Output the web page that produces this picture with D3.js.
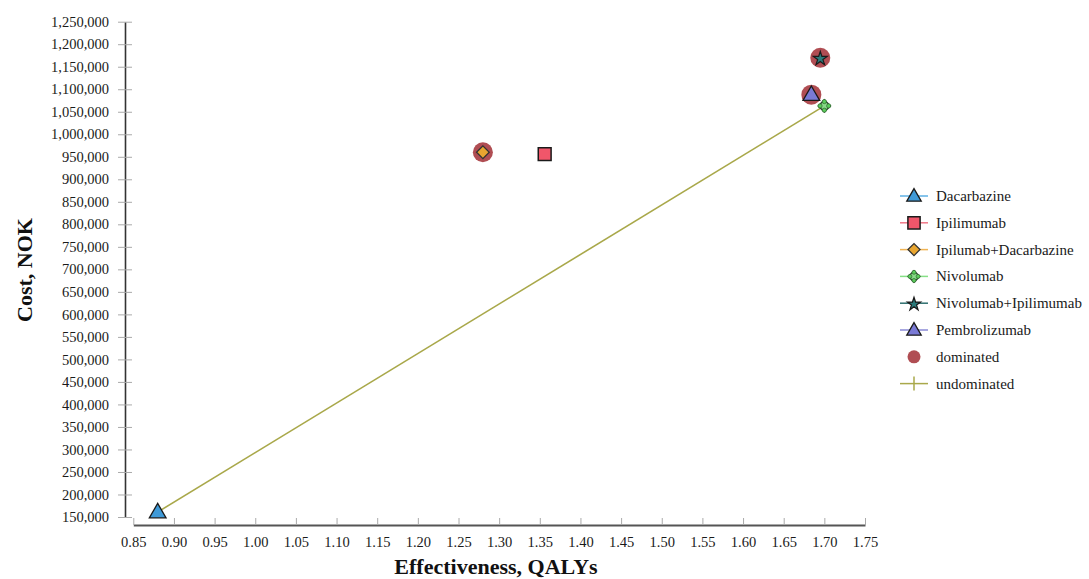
<!DOCTYPE html>
<html><head><meta charset="utf-8">
<script src="https://cdn.jsdelivr.net/npm/d3@7"></script>
<style>
html,body{margin:0;padding:0;background:#fff;}
svg{display:block;}
svg text{font-family:"Liberation Serif","Times New Roman",serif;}
</style></head>
<body>
<svg id="chart" width="1089" height="579"></svg>
<script>
// ---- data ----
const treatments = ["Dacarbazine","Ipilimumab","Ipilumab+Dacarbazine","Nivolumab","Nivolumab+Ipilimumab","Pembrolizumab"];
const effectiveness = [0.880, 1.356, 1.280, 1.700, 1.695, 1.684];
const costs = [161000, 956000, 960000, 1063000, 1170000, 1088000];
const dominated = ["Ipilumab+Dacarbazine","Nivolumab+Ipilimumab","Pembrolizumab"];
const undominated = ["Dacarbazine","Nivolumab"];
const xTicks = [0.85,0.90,0.95,1.00,1.05,1.10,1.15,1.20,1.25,1.30,1.35,1.40,1.45,1.50,1.55,1.60,1.65,1.70,1.75];
const yTicks = d3.range(150000, 1250001, 50000);
const legendLabels = ["Dacarbazine","Ipilimumab","Ipilumab+Dacarbazine","Nivolumab","Nivolumab+Ipilimumab","Pembrolizumab","dominated","undominated"];

// ---- styles ----
const FONT = "Liberation Serif, Times New Roman, serif";
const styles = {
  "Dacarbazine": {shape:"triangle", fill:"#3f9ad8", line:"#5eb0e4"},
  "Ipilimumab": {shape:"square", fill:"#f0566a", line:"#f07888"},
  "Ipilumab+Dacarbazine": {shape:"diamond", fill:"#e8a530", line:"#f0b455"},
  "Nivolumab": {shape:"nivo", fill:"#5ccc5c", line:"#86e086"},
  "Nivolumab+Ipilimumab": {shape:"star", fill:"#2a7a7a", line:"#2f6f6f"},
  "Pembrolizumab": {shape:"triangle", fill:"#7a7ad6", line:"#8a8ad6"}
};
const domColor = "#b04e52";
const undomColor = "#a9a84a";

const svg = d3.select("#chart");
const defs = svg.append("defs");
defs.append("filter").attr("id","soft").attr("x","-50%").attr("y","-50%").attr("width","200%").attr("height","200%")
  .append("feGaussianBlur").attr("stdDeviation",0.6);

const x = d3.scaleLinear().domain([0.85,1.75]).range([133.3,865]);
const y = d3.scaleLinear().domain([150000,1250000]).range([517,21.7]);

// ---- axes ----
const yAxis = d3.axisLeft(y).tickValues(yTicks).tickSizeInner(7).tickSizeOuter(0).tickPadding(9)
  .tickFormat(d3.format(","));
const gy = svg.append("g").attr("transform","translate(125,0)").call(yAxis).attr("font-family",FONT);
gy.select(".domain").attr("stroke","#333").attr("stroke-width",1.6);
gy.selectAll(".tick line").attr("x1",7).attr("x2",-7).attr("stroke","#aaa");
gy.selectAll(".tick text").attr("font-size","14.5px").attr("font-family",FONT).attr("fill","#1a1a1a");

const xAxis = d3.axisBottom(x).tickValues(xTicks).tickSizeInner(-7).tickSizeOuter(0).tickPadding(12)
  .tickFormat(d3.format(".2f"));
const gx = svg.append("g").attr("transform","translate(0,525)").call(xAxis).attr("font-family",FONT);
gx.select(".domain").attr("stroke","#555").attr("stroke-width",2);
gx.selectAll(".tick line").attr("stroke","#aaa");
gx.selectAll(".tick text").attr("font-size","14.5px").attr("font-family",FONT).attr("fill","#1a1a1a");

// axis titles
svg.append("text").attr("transform","translate(32,270) rotate(-90)").attr("text-anchor","middle")
  .attr("font-family",FONT).attr("font-size","22px").attr("font-weight","bold").attr("fill","#111").text("Cost, NOK");
svg.append("text").attr("x",496).attr("y",574).attr("text-anchor","middle")
  .attr("font-family",FONT).attr("font-size","22px").attr("font-weight","bold").attr("fill","#111").text("Effectiveness, QALYs");

// ---- frontier line ----
const pts = treatments.map((t,i)=>({name:t, x:effectiveness[i], y:costs[i]}));
const frontier = pts.filter(p=>undominated.includes(p.name)).sort((a,b)=>a.x-b.x);
svg.append("path").datum(frontier)
  .attr("d", d3.line().x(d=>x(d.x)).y(d=>y(d.y)))
  .attr("fill","none").attr("stroke",undomColor).attr("stroke-width",1.6);

// ---- dominated halos ----
svg.append("g").selectAll("circle").data(pts.filter(p=>dominated.includes(p.name))).join("circle")
  .attr("cx",d=>x(d.x)).attr("cy",d=>y(d.y)).attr("r",10)
  .attr("fill",domColor).attr("filter","url(#soft)");

// ---- markers ----
function drawMarker(g, name, scale){
  const st = styles[name];
  const s = scale || 1;
  if(st.shape==="triangle"){
    g.append("path").attr("d", d3.symbol(d3.symbolTriangle, 100*s*s)()).attr("transform","translate(0,1)")
      .attr("fill",st.fill).attr("stroke","#1a1a1a").attr("stroke-width",1.3);
  } else if(st.shape==="square"){
    g.append("path").attr("d", d3.symbol(d3.symbolSquare, 165*s*s)())
      .attr("fill",st.fill).attr("stroke","#1a1a1a").attr("stroke-width",1.5);
  } else if(st.shape==="diamond"){
    g.append("path").attr("d", d3.symbol(d3.symbolSquare, 80*s*s)()).attr("transform","rotate(45)")
      .attr("fill",st.fill).attr("stroke","#333").attr("stroke-width",1.3);
  } else if(st.shape==="nivo"){
    g.append("path").attr("d", d3.symbol(d3.symbolSquare, 75*s*s)()).attr("transform","rotate(45)")
      .attr("fill","#8bd88b").attr("stroke","#2f3f2f").attr("stroke-width",1.3);
    const r = 4.3*s;
    [[0,-r],[r,0],[0,r],[-r,0]].forEach(p=>{
      g.append("circle").attr("cx",p[0]).attr("cy",p[1]).attr("r",2.1*s)
        .attr("fill",st.fill).attr("stroke","#2e6a2e").attr("stroke-width",0.7);
    });
  } else if(st.shape==="star"){
    g.append("path").attr("d", d3.symbol(d3.symbolStar, 60*s*s)()).attr("transform","translate(0,1)")
      .attr("fill",st.fill).attr("stroke","#1a1a1a").attr("stroke-width",1.2);
  }
}
const mg = svg.append("g");
pts.forEach(p=>{
  const g = mg.append("g").attr("transform",`translate(${x(p.x)},${y(p.y)})`);
  drawMarker(g, p.name, p.name==="Pembrolizumab"||p.name==="Dacarbazine" ? 1.1 : 1);
});

// ---- legend ----
const leg = svg.append("g").attr("transform","translate(900,196)");
legendLabels.forEach((lab,i)=>{
  const g = leg.append("g").attr("transform",`translate(0,${i*26.8})`);
  if(styles[lab]){
    g.append("line").attr("x1",0).attr("x2",28).attr("stroke",styles[lab].line).attr("stroke-width",1.5);
    const m = g.append("g").attr("transform","translate(14,0)");
    drawMarker(m, lab, 0.95);
  } else if(lab==="dominated"){
    g.append("circle").attr("cx",14).attr("cy",0).attr("r",6.5).attr("fill",domColor).attr("filter","url(#soft)");
  } else {
    g.append("line").attr("x1",0).attr("x2",28).attr("stroke",undomColor).attr("stroke-width",1.5);
    g.append("line").attr("x1",14).attr("x2",14).attr("y1",-7).attr("y2",7).attr("stroke",undomColor).attr("stroke-width",1.5);
  }
  g.append("text").attr("x",36).attr("y",0).attr("dy","0.33em")
    .attr("font-family",FONT).attr("font-size","15px")
    .attr("fill","#1a1a1a").text(lab);
});
</script>
</body></html>
